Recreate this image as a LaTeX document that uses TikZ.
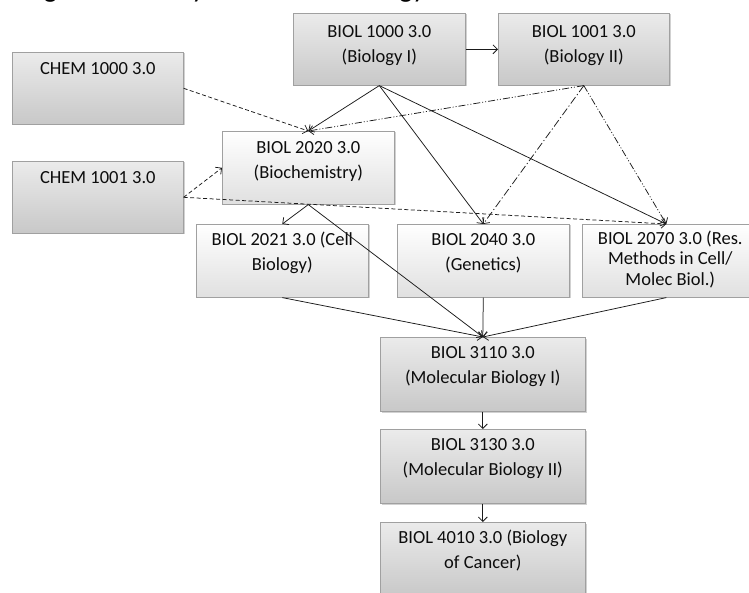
\documentclass[tikz,border=0pt]{standalone}
\usepackage{fontspec}
\setmainfont{Carlito}
\usetikzlibrary{arrows.meta,shadows}
\pgfdeclarelayer{bg}
\pgfsetlayers{bg,main}
\definecolor{boxline}{HTML}{A0A0A0}
\definecolor{greytop}{HTML}{EBEBEB}
\definecolor{greybot}{HTML}{C8C8C8}
\definecolor{lighttop}{HTML}{FFFFFF}
\definecolor{lightbot}{HTML}{E0E0E0}
\definecolor{ink}{HTML}{1A1A1A}
\definecolor{txt}{HTML}{0D0D0D}
\tikzset{
  course/.style={draw=boxline, line width=0.6pt, rectangle, inner sep=0pt, anchor=north west,
    drop shadow={shadow xshift=1.2pt, shadow yshift=-1.2pt, fill=black, opacity=0.18}},
  greybox/.style={course, top color=greytop, bottom color=greybot},
  lightbox/.style={course, top color=lighttop, bottom color=lightbot},
  lbl/.style={anchor=north, inner sep=0pt, align=center, text=txt,
    font=\fontsize{18.5}{25}\selectfont},
  tightlbl/.style={lbl, font=\fontsize{18.5}{20.5}\selectfont},
  link/.style={draw=ink, line width=0.75pt, -{Straight Barb[length=4.5pt,width=9pt]}},
  dashlink/.style={link, dash pattern=on 4pt off 2.5pt},
  dotlink/.style={link, dash pattern=on 7pt off 2pt on 1pt off 2pt on 1pt off 2pt},
  dlink/.style={link, dash pattern=on 8pt off 2.5pt on 1.2pt off 2.5pt},
}
\newcommand{\sr}{\rule{0pt}{14pt}}
\begin{document}
\begin{tikzpicture}[x=1pt,y=-1pt]
\clip (0,0) rectangle (749,593);
\fill[white] (0,0) rectangle (749,593);
% title (only its lowest part is in the frame, as in the reference)
\node[anchor=base west, inner sep=0pt, text=black, font=\fontsize{28}{30}\selectfont] (title) at (5,-2) {Program Pathway: Molecular Biology};
% boxes
\node[greybox, minimum width=172pt, minimum height=72pt] (b1000) at (293,13) {};
\node[greybox, minimum width=171pt, minimum height=72pt] (b1001) at (498,13) {};
\node[greybox, minimum width=171pt, minimum height=72pt] (c1000) at (12,52) {};
\node[greybox, minimum width=171pt, minimum height=72pt] (c1001) at (12,161) {};
\node[lightbox, minimum width=172pt, minimum height=73pt] (b2020) at (222,131) {};
\node[lightbox, minimum width=172pt, minimum height=73pt] (b2021) at (196,224) {};
\node[lightbox, minimum width=172pt, minimum height=73pt] (b2040) at (397,224) {};
\node[lightbox, minimum width=168pt, minimum height=73pt] (b2070) at (582,224) {};
\node[greybox, minimum width=205pt, minimum height=74pt] (b3110) at (380,337) {};
\node[greybox, minimum width=205pt, minimum height=74pt] (b3130) at (380,429) {};
\node[greybox, minimum width=205pt, minimum height=74pt] (b4010) at (380,522) {};
% texts
\node[lbl] (t1000) at ([yshift=-10pt]b1000.north) {\sr BIOL 1000 3.0\\(Biology I)};
\node[lbl] (t1001) at ([yshift=-10pt]b1001.north) {\sr BIOL 1001 3.0\\(Biology II)};
\node[lbl] (tc1000) at ([yshift=-8pt]c1000.north) {\sr CHEM 1000 3.0};
\node[lbl] (tc1001) at ([yshift=-8pt]c1001.north) {\sr CHEM 1001 3.0};
\node[lbl] (t2020) at ([yshift=-8pt]b2020.north) {\sr BIOL 2020 3.0\\(Biochemistry)};
\node[lbl] (t2021) at ([yshift=-7pt]b2021.north) {\sr BIOL 2021 3.0 (Cell\\Biology)};
\node[lbl] (t2040) at ([yshift=-7pt]b2040.north) {\sr BIOL 2040 3.0\\(Genetics)};
\node[tightlbl] (t2070) at ([yshift=-6pt,xshift=4pt]b2070.north) {\sr BIOL 2070 3.0 (Res.\\Methods in Cell/\\Molec Biol.)};
\node[lbl] (t3110) at ([yshift=-7pt]b3110.north) {\sr BIOL 3110 3.0\\(Molecular Biology I)};
\node[lbl] (t3130) at ([yshift=-7pt]b3130.north) {\sr BIOL 3130 3.0\\(Molecular Biology II)};
\node[lbl] (t4010) at ([yshift=-7pt]b4010.north) {\sr BIOL 4010 3.0 (Biology\\of Cancer)};
% connector that runs behind BIOL 2020
\begin{pgfonlayer}{bg}
\draw[dashlink] (c1000.east) -- (b2070.north);
\end{pgfonlayer}
% connectors
\draw[link] (b1000.east) -- (b1001.west);
\draw[link] (b1000.south) -- (b2020.north);
\draw[link] (b1000.south) -- (b2040.north);
\draw[link] (b1000.south) -- (b2070.north);
\draw[dotlink] (b1001.south) -- (b2020.north);
\draw[dlink] (b1001.south) -- (b2040.north);
\draw[dotlink] (b1001.south) -- (b2070.north);
\draw[dashlink] (c1000.east) -- (b2020.north);
\draw[dashlink] (c1001.east) -- (b2020.west);
\draw[dashlink] (c1001.east) -- (b2070.north);
\draw[link] (b2020.south) -- (b2021.north);
\draw[link] (b2020.south) -- (b3110.north);
\draw[link] (b2021.south) -- (b3110.north);
\draw[link] (b2040.south) -- (b3110.north);
\draw[link] (b2070.south) -- (b3110.north);
\draw[link] (b3110.south) -- (b3130.north);
\draw[link] (b3130.south) -- (b4010.north);
\end{tikzpicture}
\end{document}
